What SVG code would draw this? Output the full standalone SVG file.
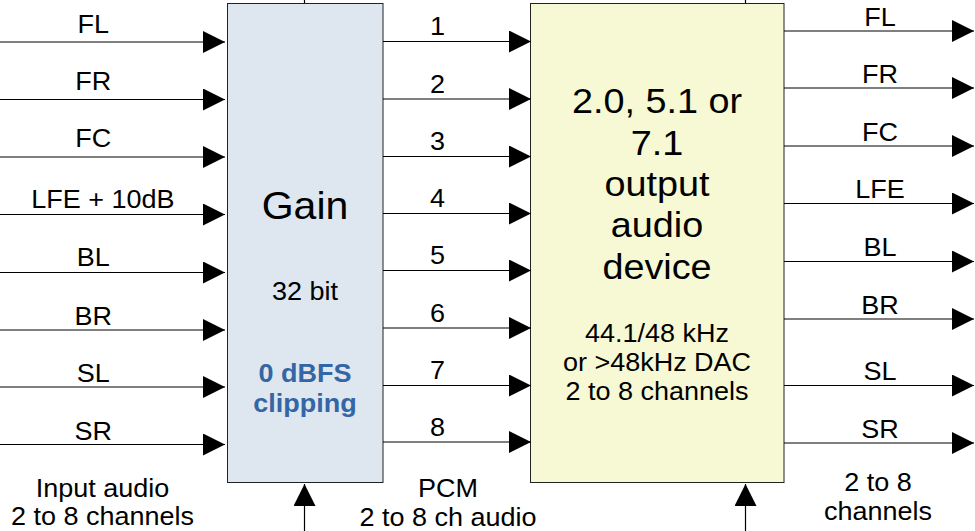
<svg xmlns="http://www.w3.org/2000/svg" width="975" height="531" viewBox="0 0 975 531">
  <defs>
    <marker id="arrow" markerUnits="userSpaceOnUse" markerWidth="23" markerHeight="23" refX="22" refY="11" orient="auto">
      <path d="M0,0 L22,11 L0,22 Z" fill="#000"/>
    </marker>
    <style>
      text { font-family: "Liberation Sans", Arial, sans-serif; font-size: 25px; text-anchor: middle; fill: #000; }
      .big { font-size: 35px; }
      .gain { font-size: 38px; }
      .clip { font-weight: bold; fill: #3465a4; }
      .box { stroke: #222; stroke-width: 1; }
      .wire { stroke: #000; stroke-width: 1.2; fill: none; }
      .arr { marker-end: url(#arrow); }
    </style>
  </defs>
  <rect width="975" height="531" fill="#fff"/>

  <!-- Gain stage -->
  <g id="gain">
    <rect class="box" x="227.5" y="3.5" width="155.5" height="479" fill="#dee6ef"/>
    <g transform="scale(1.08,1)">
      <text class="gain" x="282.41" y="219">Gain</text>
      <text x="282.41" y="300">32 bit</text>
      <text class="clip" x="282.41" y="382">0 dBFS</text>
      <text class="clip" x="282.41" y="412">clipping</text>
    </g>
  </g>

  <!-- Output audio device -->
  <g id="device">
    <rect class="box" x="530.5" y="3.5" width="253.5" height="479" fill="#f6f9d4"/>
    <g transform="scale(1.08,1)">
      <text class="big" x="608.33" y="113">2.0, 5.1 or</text>
      <text class="big" x="608.33" y="155">7.1</text>
      <text class="big" x="608.33" y="196">output</text>
      <text class="big" x="608.33" y="237">audio</text>
      <text class="big" x="608.33" y="279">device</text>
      <text x="608.33" y="342">44.1/48 kHz</text>
      <text x="608.33" y="371">or &gt;48kHz DAC</text>
      <text x="608.33" y="400">2 to 8 channels</text>
    </g>
  </g>

  <!-- Input channel labels -->
  <g id="inputs" transform="scale(1.08,1)">
    <text x="86.39" y="33">FL</text>
    <text x="86.39" y="90">FR</text>
    <text x="86.39" y="147.5">FC</text>
    <text x="95.19" y="208.5">LFE + 10dB</text>
    <text x="86.39" y="266.5">BL</text>
    <text x="86.39" y="325">BR</text>
    <text x="86.39" y="382">SL</text>
    <text x="86.39" y="440">SR</text>
    <text x="94.91" y="497">Input audio</text>
    <text x="94.91" y="525">2 to 8 channels</text>
  </g>

  <!-- PCM channel labels -->
  <g id="pcm" transform="scale(1.08,1)">
    <text x="405.09" y="35.5">1</text>
    <text x="405.09" y="93">2</text>
    <text x="405.09" y="150.5">3</text>
    <text x="405.09" y="207.5">4</text>
    <text x="405.09" y="264.5">5</text>
    <text x="405.09" y="322">6</text>
    <text x="405.09" y="379.5">7</text>
    <text x="405.09" y="436">8</text>
    <text x="414.81" y="497">PCM</text>
    <text x="414.81" y="526">2 to 8 ch audio</text>
  </g>

  <!-- Output channel labels -->
  <g id="outputs" transform="scale(1.08,1)">
    <text x="814.81" y="26">FL</text>
    <text x="814.81" y="83">FR</text>
    <text x="814.81" y="141">FC</text>
    <text x="814.81" y="198.5">LFE</text>
    <text x="814.81" y="256.5">BL</text>
    <text x="814.81" y="314">BR</text>
    <text x="814.81" y="380.5">SL</text>
    <text x="814.81" y="438">SR</text>
    <text x="812.96" y="491">2 to 8</text>
    <text x="812.96" y="520">channels</text>
  </g>

  <!-- Connectors -->
  <g id="connectors" class="wire">
    <!-- inputs into gain -->
    <path class="arr" d="M0,42 H225"/>
    <path class="arr" d="M0,99.5 H225"/>
    <path class="arr" d="M0,157 H225"/>
    <path class="arr" d="M0,214.5 H225"/>
    <path class="arr" d="M0,272.5 H225"/>
    <path class="arr" d="M0,330 H225"/>
    <path class="arr" d="M0,387 H225"/>
    <path class="arr" d="M0,444.5 H225"/>
    <!-- gain to device -->
    <path class="arr" d="M383,41.5 H531"/>
    <path class="arr" d="M383,99 H531"/>
    <path class="arr" d="M383,156.5 H531"/>
    <path class="arr" d="M383,213.5 H531"/>
    <path class="arr" d="M383,270.5 H531"/>
    <path class="arr" d="M383,328 H531"/>
    <path class="arr" d="M383,385.5 H531"/>
    <path class="arr" d="M383,442 H531"/>
    <!-- device outputs -->
    <path class="arr" d="M784,31 H974"/>
    <path class="arr" d="M784,88 H974"/>
    <path class="arr" d="M784,146 H974"/>
    <path class="arr" d="M784,203.5 H974"/>
    <path class="arr" d="M784,261.5 H974"/>
    <path class="arr" d="M784,319 H974"/>
    <path class="arr" d="M784,385.5 H974"/>
    <path class="arr" d="M784,443 H974"/>
    <!-- control feeds from below -->
    <path class="arr" d="M304.5,531 V484"/>
    <path class="arr" d="M745.5,531 V484"/>
    <!-- feeds entering from above -->
    <path d="M304.5,0 V3"/>
    <path d="M745.5,0 V3"/>
  </g>
</svg>
